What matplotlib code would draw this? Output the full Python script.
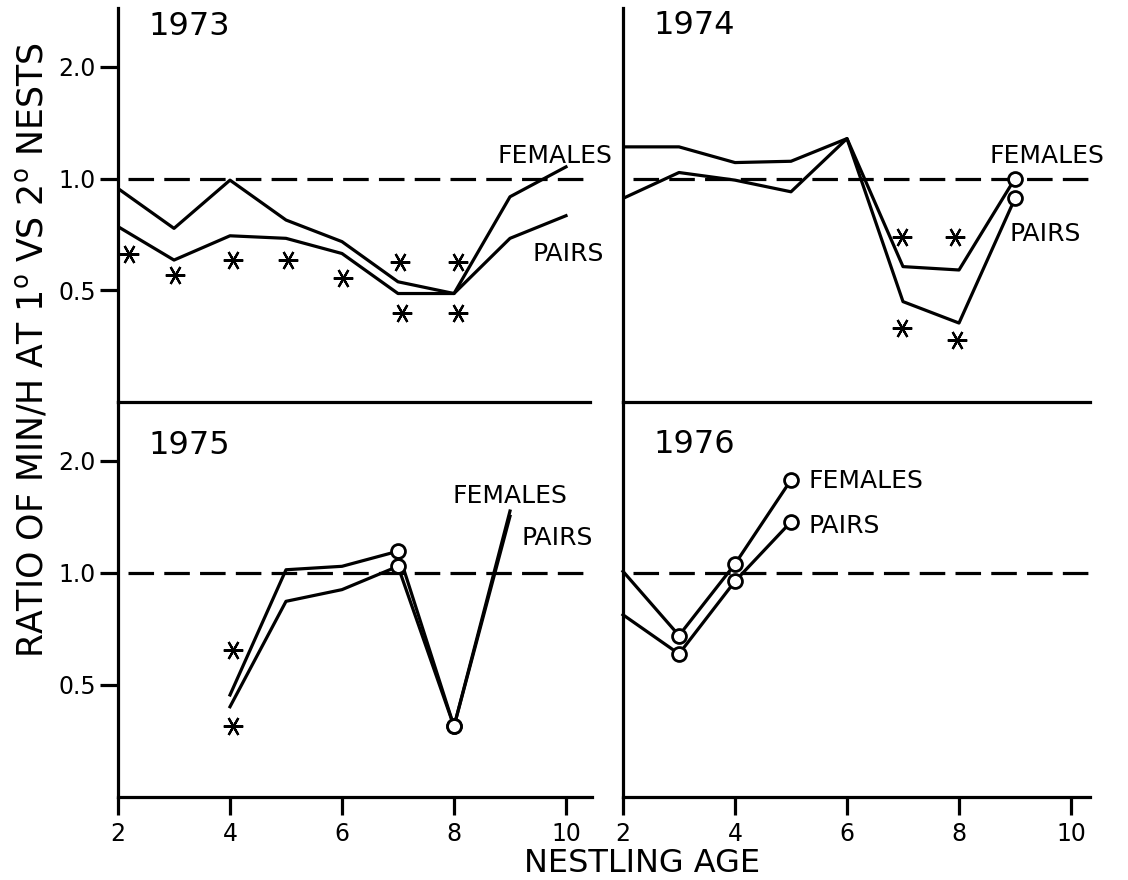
import numpy as np
import matplotlib.pyplot as plt
from matplotlib.ticker import NullLocator

plt.rcParams['font.family'] = ['DejaVu Sans']

# nestling age (days)
ages = [2, 3, 4, 5, 6, 7, 8, 9, 10]

# 1973
fem_73 = [0.94, 0.734, 0.99, 0.773, 0.676, 0.527, 0.49, 0.893, 1.075]
pair_73 = [0.742, 0.603, 0.701, 0.69, 0.628, 0.49, 0.49, 0.69, 0.794]
star_x_73 = [2.2, 3.02, 4.06, 5.04, 6.02, 7.04, 7.07, 8.08, 8.08]
star_y_73 = [0.628, 0.55, 0.603, 0.603, 0.539, 0.597, 0.434, 0.597, 0.434]

# 1974
ages_74 = [2, 3, 4, 5, 6, 7, 8, 9]
fem_74 = [1.217, 1.217, 1.104, 1.113, 1.281, 0.579, 0.567, 1.0]
pair_74 = [0.884, 1.038, 0.99, 0.921, 1.281, 0.466, 0.408, 0.884]
circ_74 = [7]
star_x_74 = [6.98, 7.93, 6.98, 7.97]
star_y_74 = [0.697, 0.695, 0.395, 0.368]

# 1975
ages_75 = [4, 5, 6, 7, 8, 9]
fem_75 = [0.47, 1.02, 1.042, 1.144, 0.387, 1.467]
pair_75 = [0.437, 0.839, 0.902, 1.042, 0.387, 1.42]
circ_75 = [3, 4]
star_x_75 = [4.05, 4.05]
star_y_75 = [0.622, 0.387]

# 1976
ages_76 = [2, 3, 4, 5]
fem_76 = [1.01, 0.679, 1.057, 1.778]
pair_76 = [0.772, 0.606, 0.95, 1.372]
circ_76 = [1, 2, 3]

years = ['1973', '1974', '1975', '1976']
xticks = [2, 4, 6, 8, 10]
yticks = [0.5, 1.0, 2.0]
ytick_labels = ['0.5', '1.0', '2.0']

W, H = 1128, 880
LW = 2.3
fig = plt.figure(figsize=(W / 100, H / 100), dpi=100)


def panel(x0, y0, x1, y1):
    ax = fig.add_axes([x0 / W, 1 - y1 / H, (x1 - x0) / W, (y1 - y0) / H])
    ax.patch.set_visible(False)
    ax.set_yscale('log')
    ax.set_xlim(2, 2 + (x1 - x0) / 56)
    ax.set_ylim(0.25, 2.88)
    ax.spines['top'].set_visible(False)
    ax.spines['right'].set_visible(False)
    for s in ('left', 'bottom'):
        ax.spines[s].set_linewidth(LW)
    ax.yaxis.set_minor_locator(NullLocator())
    ax.xaxis.set_minor_locator(NullLocator())
    ax.tick_params(width=LW, length=13, labelsize=17, direction='out')
    ax.axhline(1.0, xmin=0.022, xmax=1.0, color='black', lw=LW, dashes=(8, 3.2))
    return ax


axes = [panel(118, 8, 590, 402), panel(623, 8, 1090, 402),
        panel(118, 402, 592, 797), panel(623, 402, 1090, 797)]

for i, ax in enumerate(axes):
    if i in (0, 2):
        ax.set_yticks(yticks)
        ax.set_yticklabels(ytick_labels)
        ax.tick_params(axis='y', pad=3)
    else:
        ax.set_yticks([])
    if i in (2, 3):
        ax.set_xticks(xticks)
        ax.set_xticklabels([str(t) for t in xticks])
        ax.tick_params(axis='x', pad=5)
    else:
        ax.set_xticks([])

star = dict(marker=(6, 2, 90), color='black', markersize=14, markeredgewidth=1.6,
            linestyle='none', zorder=4)
circ = dict(marker='o', markerfacecolor='white', markeredgecolor='black',
            markersize=10, markeredgewidth=2)

# 1973
ax = axes[0]
ax.plot(ages, fem_73, color='black', lw=LW)
ax.plot(ages, pair_73, color='black', lw=LW)
ax.plot(star_x_73, star_y_73, **star)
ax.text(8.77, 1.153, 'FEMALES', fontsize=18, va='center')
ax.text(9.41, 0.628, 'PAIRS', fontsize=18, va='center')

# 1974
ax = axes[1]
ax.plot(ages_74, fem_74, color='black', lw=LW, markevery=circ_74, **circ)
ax.plot(ages_74, pair_74, color='black', lw=LW, markevery=circ_74, **circ)
ax.plot(star_x_74, star_y_74, **star)
ax.text(8.55, 1.153, 'FEMALES', fontsize=18, va='center')
ax.text(8.91, 0.711, 'PAIRS', fontsize=18, va='center')

# 1975
ax = axes[2]
ax.plot(ages_75, fem_75, color='black', lw=LW, markevery=circ_75, **circ)
ax.plot(ages_75, pair_75, color='black', lw=LW, markevery=circ_75, **circ)
ax.plot(star_x_75, star_y_75, **star)
ax.text(7.98, 1.61, 'FEMALES', fontsize=18, va='center')
ax.text(9.21, 1.24, 'PAIRS', fontsize=18, va='center')

# 1976
ax = axes[3]
ax.plot(ages_76, fem_76, color='black', lw=LW, markevery=circ_76, clip_on=False, **circ)
ax.plot(ages_76, pair_76, color='black', lw=LW, markevery=circ_76, clip_on=False, **circ)
ax.text(5.32, 1.768, 'FEMALES', fontsize=18, va='center')
ax.text(5.32, 1.336, 'PAIRS', fontsize=18, va='center')

for ax, yr, yv in zip(axes, years, [2.56, 2.58, 2.195, 2.22]):
    ax.text(2.54, yv, yr, fontsize=23, va='center')

fig.text(642 / W, 1 - 863 / H, 'NESTLING AGE', fontsize=23, ha='center', va='center')
fig.text(32 / W, 1 - 350 / H, r'RATIO OF MIN/H AT 1$^{\mathrm{o}}$ VS 2$^{\mathrm{o}}$ NESTS',
         fontsize=25, rotation=90, ha='center', va='center')

fig.savefig('out.png', dpi=100)
